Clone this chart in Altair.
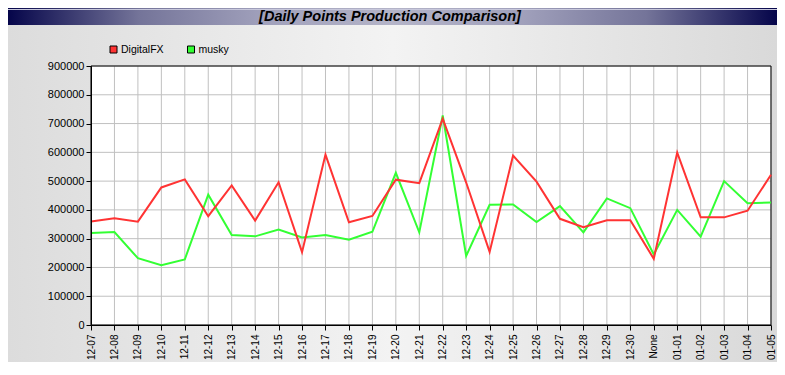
import altair as alt
import pandas as pd

dates = ["12-07", "12-08", "12-09", "12-10", "12-11", "12-12", "12-13", "12-14",
         "12-15", "12-16", "12-17", "12-18", "12-19", "12-20", "12-21", "12-22",
         "12-23", "12-24", "12-25", "12-26", "12-27", "12-28", "12-29", "12-30",
         "None", "01-01", "01-02", "01-03", "01-04", "01-05"]

digitalfx = [360000, 371000, 359000, 478000, 506000, 378000, 485000, 363000,
             496000, 253000, 592000, 357000, 379000, 505000, 493000, 717000,
             495000, 254000, 589000, 498000, 369000, 340000, 364000, 364000,
             230000, 599000, 374000, 374000, 397000, 522000]

musky = [320000, 323000, 232000, 208000, 228000, 453000, 313000, 308000,
         332000, 304000, 313000, 296000, 324000, 529000, 322000, 728000,
         240000, 418000, 419000, 358000, 413000, 322000, 440000, 406000,
         245000, 400000, 307000, 500000, 423000, 426000]

series_names = ["DigitalFX", "musky"]
series_colors = ["#ff3333", "#33ff33"]
y_ticks = [0, 100000, 200000, 300000, 400000, 500000, 600000, 700000, 800000, 900000]
title_text = "[Daily Points Production Comparison]"

W, H = 680, 259
PAD = {"left": 83, "top": 58, "right": 6, "bottom": 37}
FONT = "Liberation Sans, Arial, sans-serif"

long = pd.DataFrame({
    "date": dates * 2,
    "series": [series_names[0]] * len(dates) + [series_names[1]] * len(dates),
    "value": digitalfx + musky,
})
one = pd.DataFrame({"k": [0]})

x_scale = alt.Scale(type="point", domain=dates, padding=0)
y_scale = alt.Scale(domain=[0, 900000], nice=False, zero=True)

x_axis = alt.Axis(title=None, labelAngle=270, labelFont=FONT, labelFontSize=10,
                  labelColor="black", labelPadding=4, tickSize=5, tickColor="black",
                  domainColor="black", grid=False, labelOverlap=False, zindex=1)
y_axis = alt.Axis(title=None, values=y_ticks, format="d", labelFont=FONT, labelFontSize=11,
                  labelColor="black", labelPadding=2, tickSize=5, tickColor="black",
                  domainColor="black", grid=False, zindex=1)

xe = alt.X("date:N", scale=x_scale, sort=None, axis=x_axis)

color = alt.Color(
    "series:N",
    scale=alt.Scale(domain=series_names, range=series_colors),
    legend=None,
)

bg_grad = alt.LinearGradient(
    gradient="linear", x1=0, x2=1, y1=0, y2=0,
    stops=[alt.GradientStop(offset=0, color="#dcdcdc"),
           alt.GradientStop(offset=0.5, color="#f3f3f3"),
           alt.GradientStop(offset=1, color="#d9d9d9")])
bar_grad = alt.LinearGradient(
    gradient="linear", x1=0, x2=1, y1=0, y2=0,
    stops=[alt.GradientStop(offset=0, color="#05054a"),
           alt.GradientStop(offset=0.17, color="#747499"),
           alt.GradientStop(offset=0.33, color="#a0a0bb"),
           alt.GradientStop(offset=0.5, color="#b4b4c8"),
           alt.GradientStop(offset=0.67, color="#a0a0bb"),
           alt.GradientStop(offset=0.83, color="#747499"),
           alt.GradientStop(offset=1, color="#05054a")])

bg = alt.Chart(one).mark_rect(fill=bg_grad).encode(
    x=alt.value(-PAD["left"]), x2=alt.value(W + PAD["right"]),
    y=alt.value(-PAD["top"]), y2=alt.value(H + PAD["bottom"]))
bar = alt.Chart(one).mark_rect(fill=bar_grad).encode(
    x=alt.value(-PAD["left"]), x2=alt.value(W + PAD["right"]),
    y=alt.value(-PAD["top"]), y2=alt.value(-PAD["top"] + 17))
bar_line = alt.Chart(one).mark_rule(color="#c8c8dc", strokeWidth=1).encode(
    x=alt.value(-PAD["left"]), x2=alt.value(W + PAD["right"]),
    y=alt.value(-PAD["top"] + 1.5))
title = alt.Chart(one).mark_text(
    text=title_text, font=FONT, fontSize=14.5, fontWeight="bold", fontStyle="italic",
    color="black", align="center", baseline="middle").encode(
    x=alt.value(299), y=alt.value(-49))
plot_bg = alt.Chart(one).mark_rect(fill="white").encode(
    x=alt.value(0), x2=alt.value(W), y=alt.value(0), y2=alt.value(H))
vgrid = alt.Chart(pd.DataFrame({"date": dates})).mark_rule(
    color="#c0c0c0", strokeWidth=1).encode(x=xe)
hgrid = alt.Chart(pd.DataFrame({"v": y_ticks})).mark_rule(
    color="#c0c0c0", strokeWidth=1).encode(
    y=alt.Y("v:Q", scale=y_scale, axis=y_axis))
border = alt.Chart(one).mark_rect(fill="transparent", stroke="black", strokeWidth=1).encode(
    x=alt.value(0), x2=alt.value(W), y=alt.value(0), y2=alt.value(H))

# legend (manual, top-left above the plot)
legend_layers = []
legend_sym_x = [22.5, 100]
for name, col, sx in zip(series_names, series_colors, legend_sym_x):
    legend_layers.append(
        alt.Chart(one).mark_square(size=49, filled=True, fill=col, stroke="black",
                                   strokeWidth=1, opacity=1).encode(
            x=alt.value(sx), y=alt.value(-16.5)))
    legend_layers.append(
        alt.Chart(one).mark_text(text=name, font=FONT, fontSize=10.5, color="black",
                                 align="left", baseline="middle").encode(
            x=alt.value(sx + 7.5), y=alt.value(-16.5)))

def line_layer(name):
    return alt.Chart(long[long["series"] == name]).mark_line(strokeWidth=2).encode(
        x=xe,
        y=alt.Y("value:Q", scale=y_scale, axis=y_axis),
        color=color,
    )

chart = alt.layer(
    bg, bar, bar_line, title, *legend_layers, plot_bg, vgrid, hgrid, border,
    line_layer("musky"), line_layer("DigitalFX"),
).properties(
    width=W, height=H,
    autosize=alt.AutoSizeParams(type="none"),
    padding=PAD,
).configure_view(stroke="transparent")

chart.save("out.html", embed_options={"renderer": "svg", "actions": False})
